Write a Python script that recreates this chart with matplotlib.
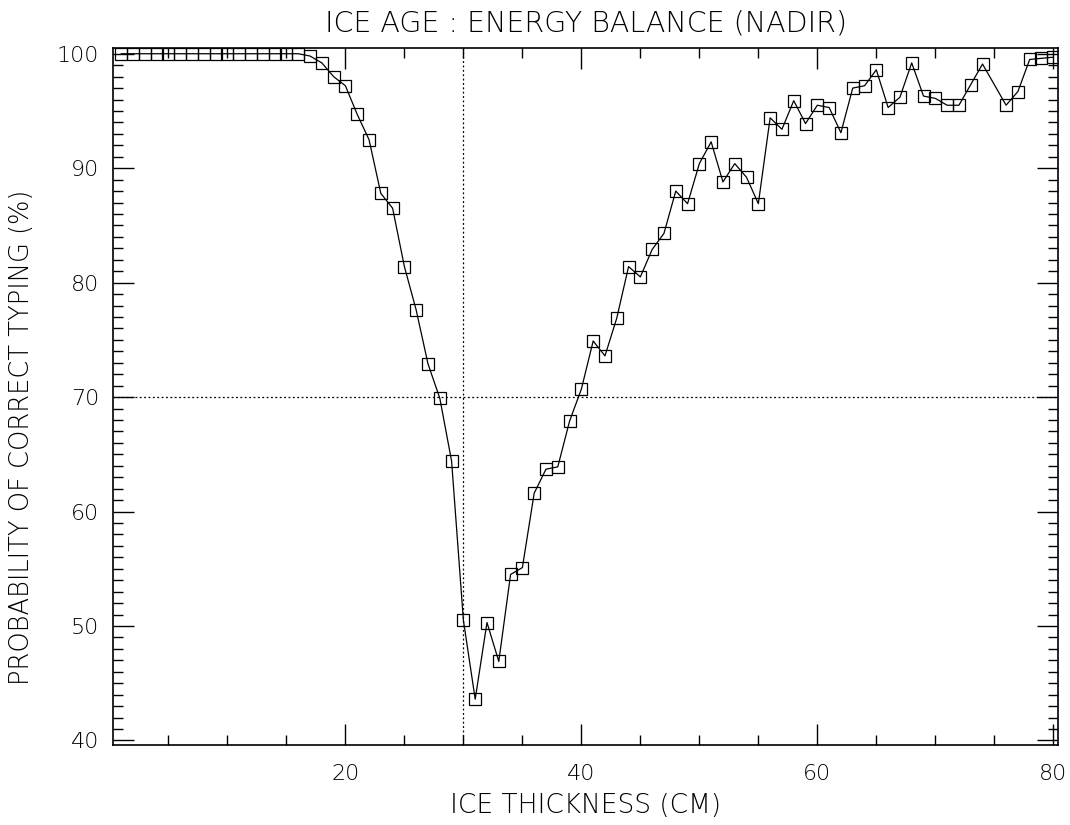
import matplotlib
matplotlib.use('Agg')
import matplotlib.pyplot as plt
from matplotlib.ticker import MultipleLocator

plt.rcParams['font.family'] = ['DejaVu Sans']
plt.rcParams['font.weight'] = 'light'
plt.rcParams['axes.titleweight'] = 'light'
plt.rcParams['axes.labelweight'] = 'light'

# ice thickness (cm) and probability of correct typing (%)
thickness = list(range(1, 75)) + [76, 77, 78, 79, 80]
prob = [100.0] * 15 + [
    100.0, 99.8, 99.2, 98.0, 97.2, 94.7, 92.5, 87.8, 86.5, 81.4,
    77.6, 72.9, 69.9, 64.4, 50.5, 43.6, 50.3, 46.9, 54.5, 55.1,
    61.6, 63.7, 63.9, 67.9, 70.7, 74.9, 73.6, 76.9, 81.4, 80.5,
    82.9, 84.3, 88.0, 86.9, 90.4, 92.3, 88.8, 90.4, 89.2, 86.9,
    94.4, 93.4, 95.9, 93.9, 95.5, 95.3, 93.1, 97.0, 97.2, 98.6,
    95.3, 96.2, 99.2, 96.3, 96.1, 95.5, 95.5, 97.3, 99.1,
    95.5, 96.7, 99.5, 99.6, 99.7,
]
ref_x = 30
ref_y = 70

fig = plt.figure(figsize=(10.7, 8.25), dpi=100)
ax = fig.add_axes([0.1056, 0.097, 0.8832, 0.8448])

ax.plot(thickness, prob, color='black', linewidth=0.9, marker='s',
        markersize=8.5, markerfacecolor='none', markeredgecolor='black',
        markeredgewidth=0.9)
ax.axvline(ref_x, color='black', linestyle=(0, (1.5, 2)), linewidth=0.9)
ax.axhline(ref_y, color='black', linestyle=(0, (1.5, 2)), linewidth=0.9)

ax.set_xlim(0.3, 80.4)
ax.set_ylim(39.6, 100.5)
ax.xaxis.set_major_locator(MultipleLocator(20))
ax.xaxis.set_minor_locator(MultipleLocator(5))
ax.yaxis.set_major_locator(MultipleLocator(10))
ax.yaxis.set_minor_locator(MultipleLocator(1))
ax.set_xticks([20, 40, 60, 80])

ax.tick_params(which='both', direction='in', top=True, right=True,
               color='black', width=1.0, labelsize=16)
ax.tick_params(axis='x', pad=14)
ax.tick_params(axis='y', pad=10)
ax.tick_params(which='major', length=15)
ax.tick_params(which='minor', length=7)
for s in ax.spines.values():
    s.set_linewidth(1.2)

ax.set_title('ICE AGE : ENERGY BALANCE (NADIR)', fontsize=20.5, pad=12)
ax.set_xlabel('ICE THICKNESS (CM)', fontsize=19, labelpad=6)
ax.set_ylabel('PROBABILITY OF CORRECT TYPING (%)', fontsize=18.5)
ax.yaxis.set_label_coords(-0.084, 0.442)

fig.savefig('out.png', dpi=100)
